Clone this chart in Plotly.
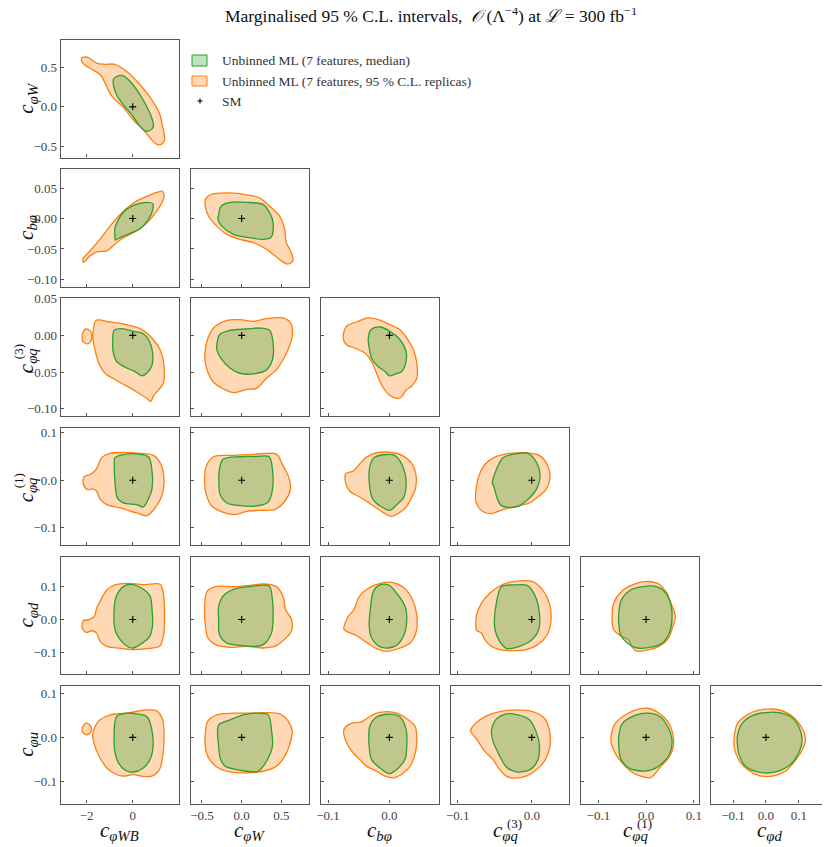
import plotly.graph_objects as go

# ---- contour outlines (data units) ----
# naming: <xvar>_<yvar>_<outer|inner>_<x|y>
wb_w_outer_x = [-2.22, -1.97, -1.57, -1.20, -0.77, -0.26, 0.32, 0.83, 1.16, 1.30, 1.38, 1.26, 1.04, 0.83, 0.46, 0.03, -0.41, -0.84, -1.04, -1.20, -1.42, -1.86, -2.17]
wb_w_outer_y = [0.62, 0.63, 0.555, 0.54, 0.54, 0.45, 0.28, 0.09, -0.08, -0.25, -0.42, -0.47, -0.475, -0.42, -0.29, -0.17, -0.005, 0.11, 0.20, 0.30, 0.41, 0.49, 0.555]
wb_w_inner_x = [-0.70, -0.41, -0.04, 0.32, 0.61, 0.83, 0.90, 0.75, 0.54, 0.32, -0.04, -0.41, -0.70, -0.84, -0.84]
wb_w_inner_y = [0.385, 0.394, 0.30, 0.153, 0.004, -0.144, -0.25, -0.30, -0.305, -0.25, -0.10, 0.025, 0.15, 0.28, 0.35]

wb_b_outer_x = [-2.17, -1.855, -1.42, -0.99, -0.48, 0.03, 0.61, 1.04, 1.30, 1.36, 1.26, 1.04, 0.68, 0.32, 0.03, -0.41, -0.77, -1.13, -1.57, -1.93, -2.14]
wb_b_outer_y = [-0.0668, -0.053, -0.034, -0.0125, 0.0092, 0.0255, 0.0364, 0.043, 0.0445, 0.036, 0.0255, 0.012, -0.0049, -0.0163, -0.0233, -0.0315, -0.042, -0.053, -0.0548, -0.064, -0.072]
wb_b_inner_x = [-0.77, -0.77, -0.41, 0.03, 0.61, 0.87, 0.87, 0.68, 0.32, -0.12, -0.55, -0.77]
wb_b_inner_y = [-0.033, -0.0152, 0.0103, 0.0217, 0.0266, 0.0244, 0.0147, -0.0016, -0.0168, -0.0244, -0.0315, -0.0353]

w_b_outer_x = [-0.458, -0.396, -0.27, -0.104, 0.0625, 0.229, 0.354, 0.479, 0.542, 0.5625, 0.625, 0.646, 0.583, 0.50, 0.417, 0.3125, 0.146, -0.021, -0.1875, -0.3125, -0.417, -0.458]
w_b_outer_y = [0.031, 0.039, 0.0418, 0.0418, 0.039, 0.0337, 0.020, 0.0038, -0.0179, -0.0396, -0.0559, -0.0695, -0.0749, -0.0695, -0.0613, -0.0505, -0.0396, -0.0342, -0.026, -0.0125, 0.0038, 0.020]
w_b_inner_x = [-0.29, -0.2625, -0.146, 0.0625, 0.271, 0.354, 0.396, 0.375, 0.29, 0.104, -0.104, -0.25, -0.30]
w_b_inner_y = [0.0065, 0.020, 0.0266, 0.0266, 0.0228, 0.0092, -0.007, -0.030, -0.034, -0.0315, -0.026, -0.0125, -0.0005]

wb_q3_outer_x = [-1.71, -1.59, -0.99, -0.41, 0.32, 0.83, 1.19, 1.36, 1.33, 1.12, 0.90, 0.78, 0.61, 0.03, -0.62, -1.20, -1.45, -1.64, -1.74]
wb_q3_outer_y = [0.0077, 0.0205, 0.0182, 0.0155, 0.0091, -0.0036, -0.0196, -0.0424, -0.0651, -0.0742, -0.0824, -0.090, -0.0856, -0.0742, -0.0628, -0.0515, -0.040, -0.0196, -0.0014]
wb_q3_island_x = [-2.17, -2.03, -1.83, -1.78, -1.93, -2.17]
wb_q3_island_y = [0.0032, 0.0087, 0.0055, -0.0036, -0.0114, -0.0082]
wb_q3_inner_x = [-0.81, -0.48, 0.03, 0.46, 0.75, 0.87, 0.83, 0.61, 0.39, 0.10, -0.33, -0.70, -0.84, -0.87]
wb_q3_inner_y = [0.0068, 0.0091, 0.0055, 0.0023, -0.0096, -0.0264, -0.0414, -0.0515, -0.0551, -0.0492, -0.0433, -0.0355, -0.0241, -0.0059]

w_q3_outer_x = [-0.458, -0.417, -0.333, -0.1875, -0.021, 0.146, 0.3125, 0.521, 0.617, 0.6375, 0.583, 0.521, 0.4375, 0.3125, 0.1875, 0.0625, -0.104, -0.229, -0.354, -0.429, -0.4625]
w_q3_outer_y = [-0.0196, -0.0014, 0.0123, 0.0205, 0.0214, 0.0191, 0.0228, 0.0237, 0.0168, -0.0014, -0.0196, -0.0332, -0.0469, -0.0583, -0.072, -0.0733, -0.0779, -0.0729, -0.0638, -0.0492, -0.0332]
w_q3_inner_x = [-0.3125, -0.279, -0.146, 0.0625, 0.229, 0.354, 0.396, 0.3875, 0.3125, 0.146, -0.021, -0.146, -0.2625, -0.3125]
w_q3_inner_y = [-0.0128, 0.0009, 0.0068, 0.0087, 0.010, 0.0068, -0.0105, -0.0332, -0.0469, -0.0524, -0.0515, -0.0446, -0.031, -0.0196]

b_q3_outer_x = [-0.0754, -0.070, -0.0536, -0.0344, -0.018, 0.0011, 0.0175, 0.0284, 0.0393, 0.0448, 0.0448, 0.0366, 0.0273, 0.0202, 0.0148, 0.0038, -0.0055, -0.0142, -0.0219, -0.029, -0.0399, -0.0563, -0.070]
b_q3_outer_y = [-0.0036, 0.0123, 0.0182, 0.0237, 0.0214, 0.0146, 0.0077, -0.0036, -0.0196, -0.0378, -0.0583, -0.0688, -0.0742, -0.0833, -0.0856, -0.0833, -0.0765, -0.0651, -0.0492, -0.0355, -0.0241, -0.0173, -0.0128]
b_q3_inner_x = [-0.0344, -0.030, -0.0153, 0.0011, 0.0175, 0.0273, 0.0273, 0.0202, 0.0093, 0.0, -0.0071, -0.0197, -0.029, -0.0328]
b_q3_inner_y = [-0.0036, 0.0077, 0.0114, 0.0055, -0.0059, -0.0219, -0.0355, -0.0492, -0.0528, -0.0551, -0.0492, -0.0414, -0.031, -0.0173]

wb_q1_outer_x = [-1.35, -0.99, -0.41, 0.32, 0.90, 1.23, 1.36, 1.26, 0.97, 0.61, 0.17, -0.55, -1.13, -1.42, -1.57, -1.74, -1.97, -2.14, -2.12, -1.855, -1.59]
wb_q1_outer_y = [0.0473, 0.0565, 0.0585, 0.0565, 0.0523, 0.0332, -0.0021, -0.0339, -0.0586, -0.0749, -0.0692, -0.0586, -0.0516, -0.0395, -0.0233, -0.0184, -0.0198, -0.0092, 0.0071, 0.012, 0.0226]
wb_q1_inner_x = [-0.77, -0.19, 0.17, 0.68, 0.83, 0.83, 0.68, 0.46, 0.17, -0.41, -0.67, -0.78, -0.80]
wb_q1_inner_y = [0.0473, 0.0555, 0.0555, 0.0494, 0.0226, -0.0198, -0.0395, -0.0565, -0.0516, -0.048, -0.0374, 0.0014, 0.0297]

w_q1_outer_x = [-0.446, -0.354, -0.104, 0.146, 0.4375, 0.5125, 0.596, 0.6125, 0.542, 0.417, 0.229, 0.0625, -0.083, -0.229, -0.375, -0.446, -0.467]
w_q1_outer_y = [0.0297, 0.0494, 0.0523, 0.0545, 0.0551, 0.0332, 0.0049, -0.0198, -0.0445, -0.0621, -0.0636, -0.0657, -0.0727, -0.0678, -0.0551, -0.0304, -0.0021]
w_q1_inner_x = [-0.283, -0.2375, -0.021, 0.1875, 0.346, 0.3875, 0.3875, 0.333, 0.146, -0.021, -0.1875, -0.271, -0.2875]
w_q1_inner_y = [0.0191, 0.0438, 0.0495, 0.050, 0.0494, 0.0226, -0.0198, -0.0466, -0.0551, -0.0537, -0.048, -0.0304, -0.0056]

b_q1_outer_x = [-0.071, -0.059, -0.0492, -0.0372, -0.0208, 0.0066, 0.023, 0.0366, 0.0437, 0.0421, 0.035, 0.0284, 0.0175, 0.0038, -0.0071, -0.0208, -0.0372, -0.0508, -0.0645, -0.071]
b_q1_outer_y = [0.0141, 0.0191, 0.0332, 0.0487, 0.0579, 0.0579, 0.0508, 0.0353, 0.0085, -0.0198, -0.0395, -0.0551, -0.0678, -0.0763, -0.0706, -0.0586, -0.0445, -0.0339, -0.0233, -0.0071]
b_q1_inner_x = [-0.0317, -0.0251, -0.0098, 0.0077, 0.0175, 0.0257, 0.0273, 0.023, 0.0131, 0.0011, -0.0142, -0.0273, -0.0328]
b_q1_inner_y = [0.0297, 0.0473, 0.0537, 0.053, 0.0403, 0.0141, -0.0127, -0.0374, -0.0501, -0.0636, -0.0551, -0.0395, -0.0056]

q3_q1_outer_x = [-0.0755, -0.0715, -0.0634, -0.05, -0.0299, -0.0076, 0.0103, 0.0214, 0.0246, 0.0192, 0.008, -0.0031, -0.021, -0.0389, -0.0567, -0.0693, -0.0755]
q3_q1_outer_y = [-0.0233, 0.0085, 0.0332, 0.0487, 0.0565, 0.0579, 0.0523, 0.0311, 0.0049, -0.0198, -0.0353, -0.048, -0.0551, -0.0621, -0.0706, -0.0621, -0.0445]
q3_q1_inner_x = [-0.0532, -0.0487, -0.0389, -0.021, -0.0054, 0.0067, 0.0112, 0.0067, -0.0031, -0.021, -0.0411, -0.0469, -0.0514]
q3_q1_inner_y = [-0.0056, 0.0191, 0.0473, 0.0558, 0.0565, 0.0367, 0.0071, -0.0184, -0.0374, -0.0565, -0.0537, -0.0374, -0.0127]

wb_d_outer_x = [-1.13, -0.77, -0.26, 0.46, 1.19, 1.33, 1.38, 1.33, 1.16, 0.61, 0.03, -0.55, -1.13, -1.42, -1.57, -1.78, -2.04, -2.20, -2.14, -1.93, -1.67, -1.57, -1.42]
wb_d_outer_y = [0.0904, 0.1057, 0.1108, 0.1067, 0.1077, 0.0803, 0.0091, -0.0518, -0.0823, -0.0894, -0.0925, -0.0884, -0.0823, -0.0671, -0.0417, -0.0346, -0.0396, -0.0234, -0.003, -0.001, 0.0091, 0.0346, 0.0549]
wb_d_inner_x = [-0.41, -0.04, 0.46, 0.75, 0.84, 0.855, 0.72, 0.46, 0.03, -0.19, -0.55, -0.77, -0.81, -0.72]
wb_d_inner_y = [0.1006, 0.1077, 0.0925, 0.0722, 0.0295, -0.0213, -0.0539, -0.0701, -0.0874, -0.0843, -0.062, -0.0315, 0.0295, 0.0701]

w_d_outer_x = [-0.4375, -0.333, -0.104, 0.146, 0.271, 0.4375, 0.521, 0.554, 0.629, 0.625, 0.542, 0.4375, 0.271, 0.0625, -0.146, -0.333, -0.425, -0.458, -0.467]
w_d_outer_y = [0.0854, 0.1006, 0.1006, 0.1057, 0.1087, 0.1006, 0.0701, 0.0295, -0.001, -0.0366, -0.060, -0.0803, -0.0874, -0.0823, -0.0854, -0.0772, -0.0569, -0.0163, 0.0346]
w_d_inner_x = [-0.2875, -0.208, -0.0625, 0.104, 0.346, 0.3875, 0.396, 0.375, 0.271, 0.146, -0.021, -0.1875, -0.279, -0.29]
w_d_inner_y = [0.0447, 0.0783, 0.0955, 0.1006, 0.1026, 0.060, 0.0091, -0.0417, -0.0772, -0.0823, -0.0793, -0.0722, -0.0467, -0.001]

b_d_outer_x = [-0.0743, -0.0672, -0.0579, -0.0492, -0.0344, -0.0153, 0.0038, 0.023, 0.0366, 0.0448, 0.0432, 0.0339, 0.0175, -0.0044, -0.0208, -0.0372, -0.0536, -0.070]
b_d_outer_y = [-0.0295, 0.0091, 0.0295, 0.0701, 0.0955, 0.1108, 0.1138, 0.0986, 0.065, 0.0142, -0.0417, -0.0722, -0.0874, -0.0976, -0.0894, -0.0701, -0.0498, -0.0366]
b_d_inner_x = [-0.0306, -0.0262, -0.0153, -0.0016, 0.012, 0.0257, 0.0284, 0.024, 0.0131, -0.0016, -0.0164, -0.029, -0.0328]
b_d_inner_y = [0.0396, 0.0854, 0.1057, 0.1057, 0.0803, 0.0396, -0.001, -0.0467, -0.0772, -0.0874, -0.0823, -0.0569, -0.0213]

q3_d_outer_x = [-0.0755, -0.0746, -0.0679, -0.0567, -0.0411, -0.0255, 0.0013, 0.0147, 0.0237, 0.0259, 0.0201, 0.008, -0.0076, -0.0255, -0.0433, -0.0545, -0.0634, -0.0679, -0.0746]
q3_d_outer_y = [-0.0213, 0.0142, 0.0498, 0.0803, 0.1057, 0.1159, 0.1159, 0.0904, 0.0498, -0.0061, -0.0498, -0.0772, -0.0925, -0.0955, -0.0925, -0.0823, -0.062, -0.0417, -0.0335]
q3_d_inner_x = [-0.0505, -0.0478, -0.0411, -0.0255, -0.0054, 0.0049, 0.0103, 0.0094, 0.0013, -0.0165, -0.0344, -0.0442, -0.0496]
q3_d_inner_y = [-0.001, 0.0498, 0.1006, 0.1057, 0.1037, 0.0701, 0.0193, -0.0315, -0.060, -0.0823, -0.0884, -0.064, -0.0315]

q1_d_outer_x = [-0.0678, -0.0516, -0.029, -0.0042, 0.024, 0.0417, 0.0523, 0.0614, 0.0558, 0.0473, 0.0275, 0.0064, -0.0184, -0.029, -0.036, -0.0537, -0.0678, -0.0713]
q1_d_outer_y = [0.0498, 0.0854, 0.1057, 0.1159, 0.1108, 0.0854, 0.0498, 0.0091, -0.0234, -0.0569, -0.0823, -0.0925, -0.0976, -0.0854, -0.064, -0.0498, -0.0315, 0.0091]
q1_d_inner_x = [-0.0572, -0.0516, -0.0325, -0.0078, 0.0219, 0.0417, 0.0523, 0.0544, 0.0487, 0.0346, 0.0134, -0.0184, -0.0395, -0.0537, -0.0572]
q1_d_inner_y = [0.0193, 0.060, 0.0904, 0.1006, 0.1006, 0.0803, 0.0447, -0.001, -0.0417, -0.0722, -0.0843, -0.0874, -0.0722, -0.0467, -0.0112]

wb_u_outer_x = [-1.42, -0.99, -0.26, 0.61, 1.04, 1.30, 1.36, 1.30, 1.16, 0.83, 0.39, 0.03, -0.41, -0.70, -1.13, -1.42, -1.64, -1.74, -1.64]
wb_u_outer_y = [0.0402, 0.0515, 0.0553, 0.0629, 0.0606, 0.0402, 0.0023, -0.0432, -0.0735, -0.0886, -0.0886, -0.0848, -0.0886, -0.0848, -0.0697, -0.047, -0.0205, 0.0061, 0.025]
wb_u_island_x = [-2.19, -2.03, -1.83, -1.81, -1.97, -2.17]
wb_u_island_y = [0.021, 0.0326, 0.0265, 0.0136, 0.0061, 0.0114]
wb_u_inner_x = [-0.70, -0.29, 0.17, 0.61, 0.83, 0.87, 0.75, 0.46, 0.03, -0.33, -0.62, -0.77, -0.81, -0.77]
wb_u_inner_y = [0.0477, 0.0553, 0.0538, 0.0477, 0.0174, -0.028, -0.0508, -0.0697, -0.0795, -0.075, -0.0583, -0.0356, 0.0023, 0.0364]

w_u_outer_x = [-0.429, -0.3125, -0.104, 0.146, 0.3125, 0.479, 0.583, 0.6375, 0.604, 0.542, 0.4375, 0.271, 0.0625, -0.146, -0.3125, -0.417, -0.458, -0.458]
w_u_outer_y = [0.0364, 0.0515, 0.0553, 0.0553, 0.0568, 0.0538, 0.0386, 0.0136, -0.0167, -0.0432, -0.0659, -0.0773, -0.0811, -0.0788, -0.0674, -0.047, -0.0205, 0.0098]
w_u_inner_x = [-0.29, -0.146, 0.021, 0.167, 0.333, 0.375, 0.3875, 0.3125, 0.208, 0.0625, -0.104, -0.208, -0.271, -0.29, -0.304]
w_u_inner_y = [0.0288, 0.0402, 0.0515, 0.0553, 0.0515, 0.0174, -0.0205, -0.0545, -0.0773, -0.0773, -0.072, -0.0659, -0.047, -0.0205, 0.0098]

b_u_outer_x = [-0.0743, -0.0645, -0.0454, -0.0344, -0.0208, -0.0033, 0.012, 0.0273, 0.0421, 0.0448, 0.0421, 0.0339, 0.023, 0.0066, -0.0071, -0.0208, -0.0372, -0.0481, -0.059, -0.0672, -0.0738]
b_u_outer_y = [0.0174, 0.0311, 0.0356, 0.0455, 0.0553, 0.0591, 0.0553, 0.0439, 0.025, -0.0053, -0.0371, -0.0659, -0.0811, -0.0924, -0.0886, -0.0773, -0.0659, -0.0508, -0.0356, -0.0189, 0.0038]
b_u_inner_x = [-0.0317, -0.0235, -0.0044, 0.0164, 0.0273, 0.0284, 0.0257, 0.0148, 0.0, -0.0153, -0.029, -0.0333]
b_u_inner_y = [0.0265, 0.0439, 0.053, 0.0477, 0.0189, -0.0205, -0.0492, -0.0697, -0.0826, -0.0697, -0.0508, -0.0129]

q3_u_outer_x = [-0.0827, -0.0755, -0.0612, -0.0433, -0.021, 0.0013, 0.017, 0.0237, 0.0246, 0.0183, 0.0067, -0.0076, -0.0232, -0.0344, -0.0433, -0.0523, -0.0634, -0.0746]
q3_u_outer_y = [0.0159, 0.0326, 0.0492, 0.0591, 0.0629, 0.0591, 0.0439, 0.0174, -0.0205, -0.0508, -0.0735, -0.0886, -0.0932, -0.0886, -0.0735, -0.0508, -0.0318, -0.0038]
q3_u_inner_x = [-0.0545, -0.0487, -0.0344, -0.0188, -0.0031, 0.0067, 0.0103, 0.008, -0.0022, -0.021, -0.0344, -0.0442, -0.0523]
q3_u_inner_y = [0.0136, 0.0402, 0.0538, 0.0515, 0.0402, 0.0098, -0.0167, -0.0523, -0.0735, -0.0788, -0.0674, -0.0394, -0.0091]

q1_u_outer_x = [-0.0727, -0.0643, -0.0487, -0.0254, 0.0028, 0.0275, 0.0452, 0.0558, 0.0572, 0.0487, 0.0311, 0.0099, -0.0113, -0.0325, -0.0501, -0.0643, -0.0727]
q1_u_outer_y = [0.0083, 0.0326, 0.0477, 0.0614, 0.0667, 0.0553, 0.0364, 0.0098, -0.0205, -0.0447, -0.0659, -0.0917, -0.0886, -0.0773, -0.0583, -0.0371, -0.0144]
q1_u_inner_x = [-0.0572, -0.0501, -0.0219, 0.0028, 0.029, 0.0452, 0.0544, 0.0501, 0.0311, 0.0099, -0.0219, -0.0395, -0.0537, -0.0572]
q1_u_inner_y = [0.0023, 0.0311, 0.0508, 0.0553, 0.0477, 0.025, -0.0053, -0.0356, -0.0621, -0.075, -0.075, -0.0674, -0.047, -0.0205]

d_u_outer_x = [-0.097, -0.0869, -0.0566, -0.0212, 0.0293, 0.0747, 0.10, 0.1152, 0.1202, 0.1101, 0.0899, 0.0596, 0.0192, -0.0212, -0.0566, -0.0818, -0.0949]
d_u_outer_y = [-0.0053, 0.0311, 0.0515, 0.0621, 0.0644, 0.0515, 0.0326, 0.0136, -0.0068, -0.0295, -0.0523, -0.0773, -0.0886, -0.0871, -0.0735, -0.0523, -0.028]
d_u_inner_x = [-0.0869, -0.0737, -0.0414, -0.001, 0.0394, 0.0747, 0.10, 0.1101, 0.102, 0.0747, 0.0293, -0.0212, -0.0616, -0.0818, -0.0869]
d_u_inner_y = [0.0023, 0.0311, 0.05, 0.0568, 0.0568, 0.0477, 0.025, -0.0053, -0.0318, -0.0621, -0.0788, -0.0795, -0.0659, -0.0394, -0.0129]

# SM point
sm_x = [0.0]
sm_y = [0.0]

# variables, labels, axis ranges, ticks
variables = ["wb", "w", "b", "q3", "q1", "d", "u"]
var_labels = {
    "wb": "<i>c</i><sub><i>φWB</i></sub>",
    "w": "<i>c</i><sub><i>φW</i></sub>",
    "b": "<i>c</i><sub><i>bφ</i></sub>",
    "q3": "<i>c</i><sub><i>φq</i></sub>",
    "q1": "<i>c</i><sub><i>φq</i></sub>",
    "d": "<i>c</i><sub><i>φd</i></sub>",
    "u": "<i>c</i><sub><i>φu</i></sub>",
}
var_sups = {"q3": "(3)", "q1": "(1)"}
var_ranges = {
    "wb": [-3.13, 2.01],
    "w": [-0.642, 0.848],
    "b": [-0.112, 0.081],
    "q3": [-0.1095, 0.0503],
    "q1": [-0.137, 0.111],
    "d": [-0.168, 0.192],
    "u": [-0.151, 0.1175],
}
x_tickvals = {"wb": [-2, 0], "w": [-0.5, 0, 0.5], "b": [-0.1, 0.0], "q3": [-0.1, 0.0],
              "q1": [-0.1, 0.0, 0.1], "d": [-0.1, 0.0, 0.1]}
x_ticktext = {"wb": ["−2", "0"], "w": ["−0.5", "0.0", "0.5"], "b": ["−0.1", "0.0"], "q3": ["−0.1", "0.0"],
              "q1": ["−0.1", "0.0", "0.1"], "d": ["−0.1", "0.0", "0.1"]}
y_tickvals = {"w": [-0.5, 0, 0.5], "b": [-0.10, -0.05, 0.0, 0.05], "q3": [-0.10, -0.05, 0.0, 0.05],
              "q1": [-0.1, 0.0, 0.1], "d": [-0.1, 0.0, 0.1], "u": [-0.1, 0.0, 0.1]}
y_ticktext = {"w": ["−0.5", "0.0", "0.5"], "b": ["−0.10", "−0.05", "0.00", "0.05"],
              "q3": ["−0.10", "−0.05", "0.00", "0.05"], "q1": ["−0.1", "0.0", "0.1"],
              "d": ["−0.1", "0.0", "0.1"], "u": ["−0.1", "0.0", "0.1"]}

legend_names = ["Unbinned ML (7 features, median)",
                "Unbinned ML (7 features, 95 % C.L. replicas)",
                "SM"]

g = globals()

ORANGE = "#ff7f0e"
ORANGE_FILL = "rgba(255,127,14,0.3)"
GREEN = "#2ca02c"
GREEN_FILL = "rgba(44,160,44,0.3)"
FONT = "Liberation Serif, DejaVu Serif, serif"

W, H = 830, 847
# the page body adds an 8px margin, so layout positions are given in window pixels
OX, OY = 8, 8
COL_LEFT, COL_STEP, PANEL_W = 60.7, 130.0, 118.3
ROW_TOP, ROW_STEP, PANEL_H = 40.0, 129.2, 117.5


def closed(xs, ys):
    return xs + [xs[0]], ys + [ys[0]]


def px(xp):
    return (xp - OX) / W


def py(yp):
    return 1 - (yp - OY) / H


fig = go.Figure()
layout = {}
k = 0
for r in range(6):
    yv = variables[r + 1]
    for c in range(r + 1):
        xv = variables[c]
        k += 1
        xa = "x" if k == 1 else f"x{k}"
        ya = "y" if k == 1 else f"y{k}"

        outers = [(g[f"{xv}_{yv}_outer_x"], g[f"{xv}_{yv}_outer_y"])]
        if f"{xv}_{yv}_island_x" in g:
            outers.append((g[f"{xv}_{yv}_island_x"], g[f"{xv}_{yv}_island_y"]))
        for xs, ys in outers:
            cx, cy = closed(xs, ys)
            fig.add_trace(go.Scatter(
                x=cx, y=cy, xaxis=xa, yaxis=ya, mode="lines", fill="toself",
                fillcolor=ORANGE_FILL, line=dict(color=ORANGE, width=1.3, shape="spline", smoothing=0.9),
                showlegend=False, hoverinfo="skip"))
        cx, cy = closed(g[f"{xv}_{yv}_inner_x"], g[f"{xv}_{yv}_inner_y"])
        fig.add_trace(go.Scatter(
            x=cx, y=cy, xaxis=xa, yaxis=ya, mode="lines", fill="toself",
            fillcolor=GREEN_FILL, line=dict(color=GREEN, width=1.3, shape="spline", smoothing=0.9),
            showlegend=False, hoverinfo="skip"))
        fig.add_trace(go.Scatter(
            x=sm_x, y=sm_y, xaxis=xa, yaxis=ya, mode="markers",
            marker=dict(symbol="cross-thin", size=5, line=dict(color="black", width=1.1)),
            showlegend=False, hoverinfo="skip"))

        x0 = COL_LEFT + COL_STEP * c
        y0 = ROW_TOP + ROW_STEP * r
        common = dict(showgrid=False, zeroline=False, showline=True, mirror=True,
                      linecolor="#555", linewidth=1.2, ticks="inside", ticklen=3,
                      tickcolor="#555", tickwidth=1, fixedrange=True, automargin=False,
                      tickfont=dict(family=FONT, size=13, color="#444"))
        layout["xaxis" if k == 1 else f"xaxis{k}"] = dict(
            common, domain=[px(x0), px(x0 + PANEL_W)], anchor=ya, range=var_ranges[xv],
            tickvals=x_tickvals[xv], ticktext=x_ticktext[xv], showticklabels=(r == 5))
        layout["yaxis" if k == 1 else f"yaxis{k}"] = dict(
            common, domain=[py(y0 + PANEL_H), py(y0)], anchor=xa, range=var_ranges[yv],
            tickvals=y_tickvals[yv], ticktext=y_ticktext[yv], showticklabels=(c == 0))

annotations = []
label_font = dict(family=FONT, size=21, color="#111")
sup_font = dict(family=FONT, size=13, color="#111")
for c in range(6):
    v = variables[c]
    xc = COL_LEFT + COL_STEP * c + PANEL_W / 2
    annotations.append(dict(
        text=var_labels[v], xref="paper", yref="paper",
        x=px(xc - (4 if v in var_sups else 0)), y=py(831),
        xanchor="center", yanchor="middle", showarrow=False, font=label_font))
    if v in var_sups:
        annotations.append(dict(
            text=var_sups[v], xref="paper", yref="paper", x=px(xc + 5), y=py(823),
            xanchor="center", yanchor="middle", showarrow=False, font=sup_font))
for r in range(6):
    v = variables[r + 1]
    yc = ROW_TOP + ROW_STEP * r + PANEL_H / 2
    annotations.append(dict(
        text=var_labels[v], xref="paper", yref="paper", textangle=-90,
        x=px(27), y=py(yc + (4 if v in var_sups else 0)),
        xanchor="center", yanchor="middle", showarrow=False, font=label_font))
    if v in var_sups:
        annotations.append(dict(
            text=var_sups[v], xref="paper", yref="paper", textangle=-90,
            x=px(18), y=py(yc - 5),
            xanchor="center", yanchor="middle", showarrow=False, font=sup_font))
annotations.append(dict(
    text="Marginalised 95 % C.L. intervals,  <i>𝒪</i> (Λ<sup>−4</sup>) at <i>ℒ</i> = 300 fb<sup>−1</sup>",
    xref="paper", yref="paper", x=px(431), y=py(15), xanchor="center", yanchor="middle",
    showarrow=False, font=dict(family=FONT, size=17.5, color="#111")))

# hand-drawn legend (small boxes like the reference)
legend_rows = [61, 81, 101]
shapes = [
    dict(type="rect", xref="paper", yref="paper", x0=px(192), x1=px(207), y0=py(66), y1=py(55),
         fillcolor=GREEN_FILL, line=dict(color=GREEN, width=1)),
    dict(type="rect", xref="paper", yref="paper", x0=px(192), x1=px(207), y0=py(86), y1=py(76),
         fillcolor=ORANGE_FILL, line=dict(color=ORANGE, width=1)),
    dict(type="line", xref="paper", yref="paper", x0=px(197.5), x1=px(202.5), y0=py(101), y1=py(101),
         line=dict(color="black", width=1.1)),
    dict(type="line", xref="paper", yref="paper", x0=px(200), x1=px(200), y0=py(98.5), y1=py(103.5),
         line=dict(color="black", width=1.1)),
]
for name, yrow in zip(legend_names, legend_rows):
    annotations.append(dict(
        text=name, xref="paper", yref="paper", x=px(220), y=py(yrow), xanchor="left", yanchor="middle",
        showarrow=False, font=dict(family=FONT, size=13.5, color="#333")))

fig.update_layout(
    **layout,
    annotations=annotations,
    shapes=shapes,
    width=W, height=H,
    margin=dict(l=0, r=0, t=0, b=0, autoexpand=False),
    paper_bgcolor="white", plot_bgcolor="white",
    font=dict(family=FONT, color="#222"),
    showlegend=False,
)

fig.write_html("out.html")
